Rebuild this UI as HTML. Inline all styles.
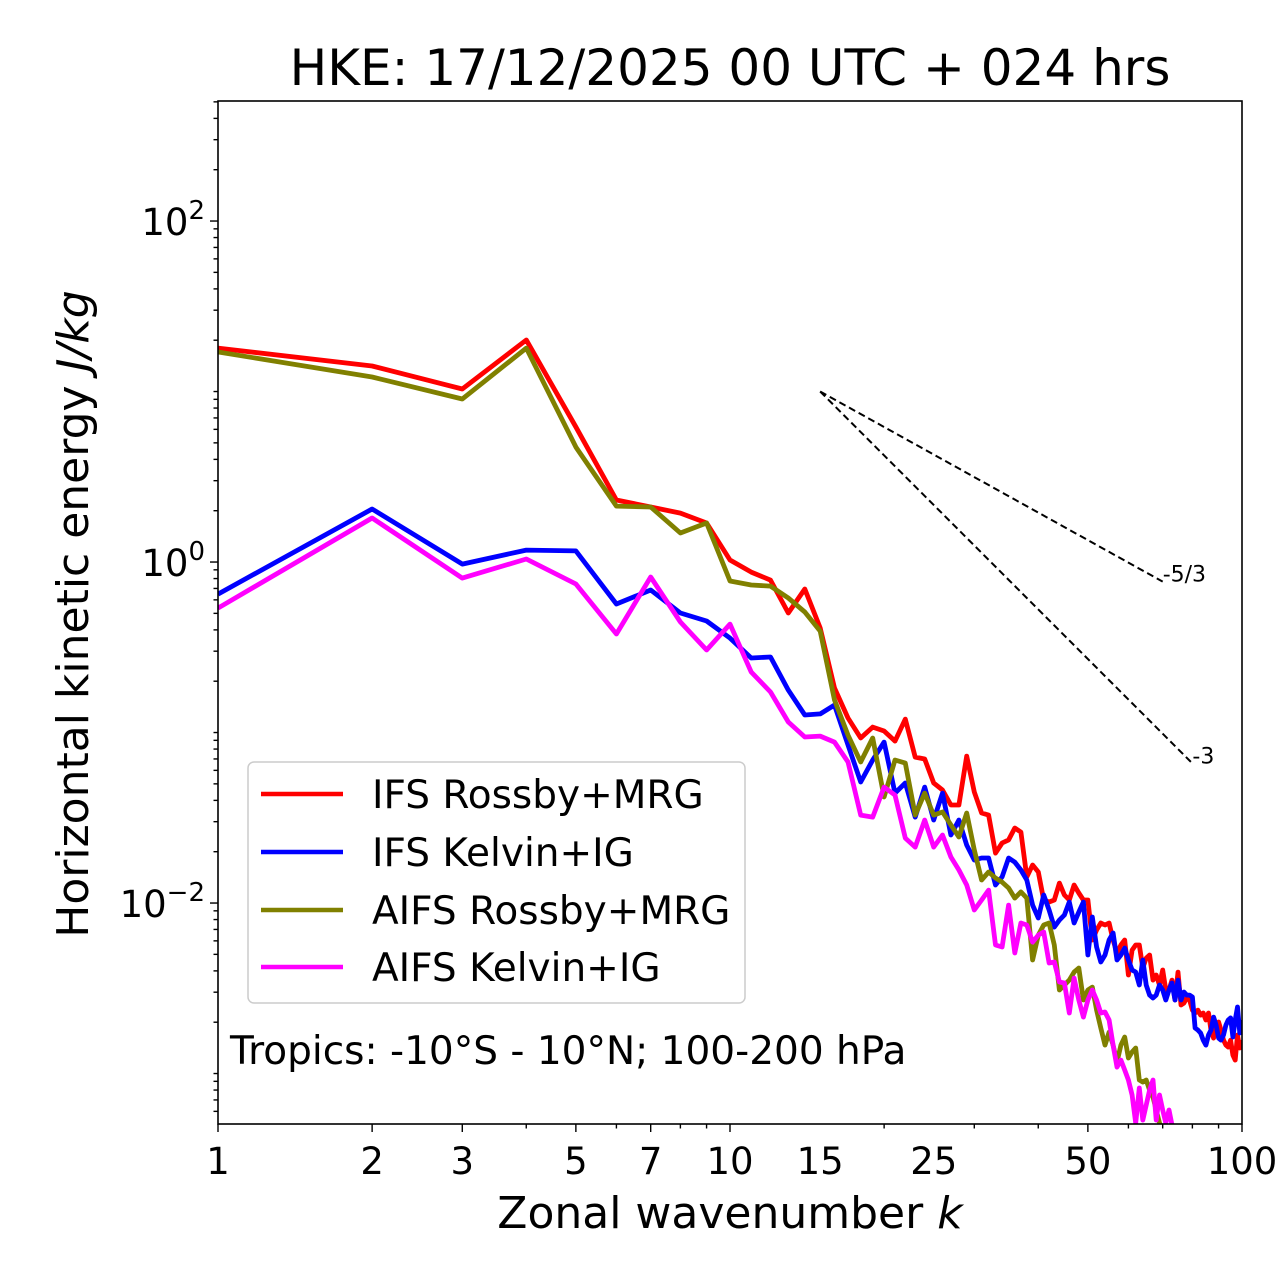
<!DOCTYPE html>
<html><head><meta charset="utf-8"><style>
html,body{margin:0;padding:0;background:#fff;}
svg{display:block;font-family:"DejaVu Sans","Liberation Sans",sans-serif;}
</style></head><body>
<svg id="chart" width="1280" height="1288" viewBox="0 0 1280 1288" xmlns="http://www.w3.org/2000/svg">
<rect width="1280" height="1288" fill="#fff"/>
<text x="730" y="85" font-size="50" text-anchor="middle">HKE: 17/12/2025 00 UTC + 024 hrs</text>
<g id="marks"></g>
<g id="axes"></g>
<rect x="218" y="101" width="1024" height="1023" fill="none" stroke="#000" stroke-width="1.6"/>
<text x="730" y="1228" font-size="44" text-anchor="middle">Zonal wavenumber <tspan font-style="italic">k</tspan></text>
<text transform="translate(88,614) rotate(-90)" font-size="44" text-anchor="middle">Horizontal kinetic energy <tspan font-style="italic">J/kg</tspan></text>
<g>
<rect x="248" y="762" width="497" height="241" rx="6" fill="#fff" fill-opacity="0.85" stroke="#ccc" stroke-width="1.5"/>
<line x1="261" y1="794" x2="343" y2="794" stroke="#ff0000" stroke-width="4.5"/>
<text x="372" y="808" font-size="39">IFS Rossby+MRG</text>
<line x1="261" y1="852" x2="343" y2="852" stroke="#0000ff" stroke-width="4.5"/>
<text x="372" y="866" font-size="39">IFS Kelvin+IG</text>
<line x1="261" y1="910" x2="343" y2="910" stroke="#808000" stroke-width="4.5"/>
<text x="372" y="924" font-size="39">AIFS Rossby+MRG</text>
<line x1="261" y1="967" x2="343" y2="967" stroke="#ff00ff" stroke-width="4.5"/>
<text x="372" y="981" font-size="39">AIFS Kelvin+IG</text>
</g>
<text x="230" y="1064" font-size="39">Tropics: -10°S - 10°N; 100-200 hPa</text>
</svg>
<script>
// log10 of energy (J/kg) per zonal wavenumber k = 1..N
const ifsRossbyLogE = [1.255,1.150,1.015,1.302,0.792,0.364,0.323,0.287,0.229,0.012,-0.059,-0.106,-0.299,-0.158,-0.387,-0.739,-0.915,-1.032,-0.968,-0.991,-1.050,-0.921,-1.144,-1.155,-1.296,-1.337,-1.425,-1.425,-1.138,-1.349,-1.472,-1.484,-1.707,-1.648,-1.630,-1.560,-1.584,-1.847,-1.777,-1.818,-1.982,-1.994,-1.982,-1.883,-1.953,-1.982,-1.894,-1.941,-1.982,-1.982,-2.217,-2.158,-2.117,-2.129,-2.117,-2.217,-2.293,-2.246,-2.217,-2.422,-2.276,-2.246,-2.246,-2.381,-2.323,-2.305,-2.452,-2.422,-2.481,-2.393,-2.510,-2.510,-2.452,-2.569,-2.405,-2.598,-2.587,-2.557,-2.569,-2.628,-2.645,-2.628,-2.657,-2.645,-2.686,-2.645,-2.745,-2.792,-2.716,-2.698,-2.745,-2.804,-2.833,-2.845,-2.804,-2.892,-2.921,-2.774,-2.850,-2.804];
const ifsKelvinLogE = [-0.188,0.311,-0.012,0.070,0.065,-0.246,-0.164,-0.299,-0.346,-0.446,-0.563,-0.557,-0.751,-0.897,-0.891,-0.839,-1.073,-1.290,-1.161,-1.056,-1.355,-1.296,-1.496,-1.320,-1.513,-1.355,-1.601,-1.513,-1.660,-1.748,-1.736,-1.736,-1.894,-1.847,-1.736,-1.760,-1.806,-1.865,-2.012,-2.088,-1.953,-2.041,-2.141,-2.100,-2.070,-1.994,-2.117,-2.053,-1.994,-2.305,-2.082,-2.258,-2.346,-2.305,-2.217,-2.176,-2.334,-2.305,-2.264,-2.334,-2.393,-2.405,-2.481,-2.334,-2.481,-2.540,-2.557,-2.540,-2.481,-2.510,-2.569,-2.510,-2.469,-2.569,-2.452,-2.569,-2.522,-2.540,-2.540,-2.551,-2.733,-2.745,-2.762,-2.804,-2.833,-2.774,-2.745,-2.669,-2.716,-2.792,-2.804,-2.774,-2.716,-2.686,-2.674,-2.786,-2.686,-2.610,-2.762,-2.686];
const aifsRossbyLogE = [1.232,1.085,0.956,1.255,0.674,0.328,0.323,0.170,0.229,-0.111,-0.135,-0.141,-0.211,-0.293,-0.405,-0.809,-1.015,-1.173,-1.032,-1.378,-1.161,-1.179,-1.484,-1.355,-1.484,-1.466,-1.542,-1.613,-1.472,-1.689,-1.865,-1.818,-1.853,-1.877,-1.912,-1.971,-1.935,-1.971,-2.334,-2.188,-2.129,-2.117,-2.246,-2.510,-2.481,-2.452,-2.405,-2.381,-2.569,-2.510,-2.493,-2.628,-2.733,-2.833,-2.757,-2.833,-2.933,-2.833,-2.786,-2.909,-2.874,-2.850,-3.038,-3.050,-3.038,-3.097,-3.138,-3.214,-3.290,-3.331,-3.390];
const aifsKelvinLogE = [-0.270,0.258,-0.094,0.018,-0.129,-0.422,-0.088,-0.352,-0.516,-0.364,-0.645,-0.762,-0.938,-1.026,-1.021,-1.056,-1.173,-1.484,-1.496,-1.320,-1.367,-1.619,-1.672,-1.513,-1.672,-1.601,-1.730,-1.806,-1.894,-2.041,-1.982,-1.924,-2.246,-2.258,-2.012,-2.293,-2.117,-2.129,-2.229,-2.188,-2.170,-2.352,-2.346,-2.463,-2.469,-2.645,-2.440,-2.569,-2.669,-2.569,-2.510,-2.569,-2.645,-2.639,-2.686,-2.833,-2.962,-2.921,-2.979,-3.038,-3.126,-3.290,-3.085,-3.273,-3.185,-3.097,-3.038,-3.273,-3.126,-3.214,-3.290,-3.214,-3.302];
const xTickLabels = [1,2,3,5,7,10,15,25,50,100];
const yTickExponents = [-2,0,2];
const slopeStartK = 15;
const slopeStartE = 10;
const slopes = [-5/3, -3];
const slopeEndK = [70, 80];
const slopeLabels = ["-5/3", "-3"];

const NS = "http://www.w3.org/2000/svg";
const X0 = 218, X1 = 1242, Y0 = 101, Y1 = 1124;
const yLogMin = -3.296, yLogMax = 2.704;
function xScale(k){ return X0 + (X1 - X0) * Math.log10(k) / 2; }
function yScale(e){ return Y1 - (Y1 - Y0) * (Math.log10(e) - yLogMin) / (yLogMax - yLogMin); }
const marks = document.getElementById('marks');
const axes = document.getElementById('axes');

const clip = document.createElementNS(NS, 'clipPath');
clip.setAttribute('id', 'plotclip');
const cr = document.createElementNS(NS, 'rect');
cr.setAttribute('x', X0); cr.setAttribute('y', Y0); cr.setAttribute('width', X1 - X0); cr.setAttribute('height', Y1 - Y0);
clip.appendChild(cr);
document.getElementById('chart').appendChild(clip);
marks.setAttribute('clip-path', 'url(#plotclip)');

function drawSeries(arr, color, name){
  const pts = arr.map((v, i) => xScale(i + 1).toFixed(1) + ',' + yScale(Math.pow(10, v)).toFixed(1)).join(' ');
  const pl = document.createElementNS(NS, 'polyline');
  pl.setAttribute('points', pts);
  pl.setAttribute('fill', 'none');
  pl.setAttribute('stroke', color);
  pl.setAttribute('stroke-width', '4.8');
  pl.setAttribute('stroke-linejoin', 'round');
  
  
  marks.appendChild(pl);
}
drawSeries(ifsRossbyLogE, '#ff0000', 'line-ifs-rossby-mrg');
drawSeries(ifsKelvinLogE, '#0000ff', 'line-ifs-kelvin-ig');
drawSeries(aifsRossbyLogE, '#808000', 'line-aifs-rossby-mrg');
drawSeries(aifsKelvinLogE, '#ff00ff', 'line-aifs-kelvin-ig');

slopes.forEach((s, i) => {
  const kEnd = slopeEndK[i];
  const eEnd = slopeStartE * Math.pow(kEnd / slopeStartK, s);
  const ln = document.createElementNS(NS, 'line');
  ln.setAttribute('x1', xScale(slopeStartK)); ln.setAttribute('y1', yScale(slopeStartE));
  ln.setAttribute('x2', xScale(kEnd)); ln.setAttribute('y2', yScale(eEnd));
  ln.setAttribute('stroke', '#000'); ln.setAttribute('stroke-width', '2');
  ln.setAttribute('stroke-dasharray', '7,4');
  
  
  axes.appendChild(ln);
  const t = document.createElementNS(NS, 'text');
  t.setAttribute('x', xScale(kEnd)); t.setAttribute('y', yScale(eEnd));
  t.setAttribute('font-size', '22');
  t.textContent = slopeLabels[i];
  
  
  axes.appendChild(t);
});

function tick(x1, y1, x2, y2, name){
  const l = document.createElementNS(NS, 'line');
  l.setAttribute('x1', x1); l.setAttribute('y1', y1); l.setAttribute('x2', x2); l.setAttribute('y2', y2);
  l.setAttribute('stroke', '#000'); l.setAttribute('stroke-width', '1.4');
  
  
  axes.appendChild(l);
}
for (let d = 0; d < 2; d++) for (let m = 1; m < 10; m++) {
  const k = m * Math.pow(10, d);
  if (k > 100) continue;
  tick(xScale(k), Y1, xScale(k), Y1 + (xTickLabels.includes(k) ? 8 : 4.5), 'x-tick');
}
tick(xScale(100), Y1, xScale(100), Y1 + 8, 'x-tick');
xTickLabels.forEach(k => {
  const t = document.createElementNS(NS, 'text');
  t.setAttribute('x', xScale(k)); t.setAttribute('y', Y1 + 50);
  t.setAttribute('font-size', '37'); t.setAttribute('text-anchor', 'middle');
  t.textContent = k;
  
  
  axes.appendChild(t);
});
for (let d = -4; d <= 2; d++) for (let m = 1; m < 10; m++) {
  const e = m * Math.pow(10, d);
  const y = yScale(e);
  if (y < Y0 || y > Y1) continue;
  const major = (m === 1 && yTickExponents.includes(d));
  tick(X0, y, X0 - (major ? 8 : 4.5), y, 'y-tick');
}
yTickExponents.forEach(p => {
  const t = document.createElementNS(NS, 'text');
  t.setAttribute('x', 205); t.setAttribute('y', yScale(Math.pow(10, p)) + 14);
  t.setAttribute('font-size', '37'); t.setAttribute('text-anchor', 'end');
  const base = document.createElementNS(NS, 'tspan');
  base.textContent = '10';
  const sup = document.createElementNS(NS, 'tspan');
  sup.setAttribute('font-size', '26'); sup.setAttribute('dy', '-16');
  sup.textContent = p < 0 ? '\u2212' + (-p) : String(p);
  t.appendChild(base); t.appendChild(sup);
  
  
  axes.appendChild(t);
});
</script>
</body></html>
